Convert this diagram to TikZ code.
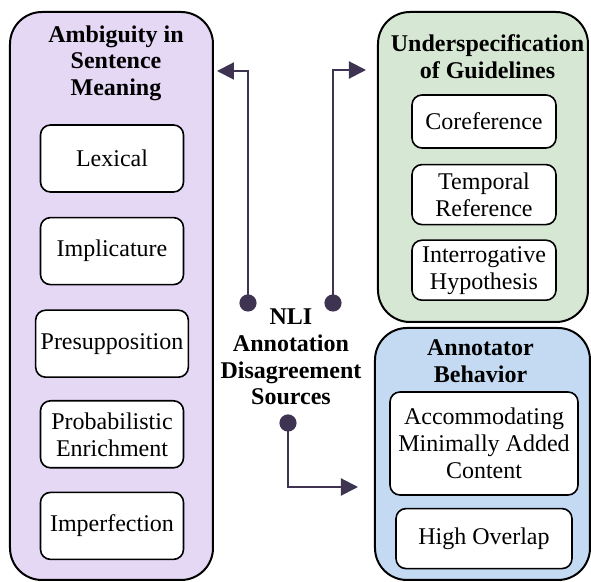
\documentclass[tikz,border=0pt]{standalone}
\usepackage{xcolor}
\usepackage{tikz}
\usepackage{fontspec}
\setmainfont{Liberation Serif}
\usetikzlibrary{arrows.meta, positioning, calc}

\definecolor{ambigfill}{HTML}{E5D8F5}
\definecolor{guidefill}{HTML}{D6E8D4}
\definecolor{annotfill}{HTML}{C4D9F2}
\definecolor{linkcol}{HTML}{3E3451}

\begin{document}
\begin{tikzpicture}[
    x=0.5pt, y=-0.5pt,
    font=\fontsize{12}{13.5}\selectfont,
    group/.style={rectangle, draw, line width=1pt, rounded corners=16pt},
    head/.style={align=center, font=\fontsize{12}{13.3}\selectfont\bfseries},
    item/.style={rectangle, draw, line width=0.8pt, rounded corners=5pt, fill=white, align=center, inner xsep=2.5pt, inner ysep=2.5pt},
    link/.style={-{Triangle[length=8.5pt, width=8.5pt]}, line width=1pt, draw=linkcol}
]
    \useasboundingbox (0,0) rectangle (591,582);

    % Groups
    \node[group, fill=ambigfill, minimum width=101.5pt, minimum height=284pt] (ambig) at (111.5,296) {};
    \node[group, fill=guidefill, minimum width=105pt, minimum height=155pt] (guide) at (483,167) {};
    \node[group, fill=annotfill, minimum width=107.5pt, minimum height=126pt] (annot) at (482.5,454) {};

    % Ambiguity in sentence meaning
    \node[head] (ambigT) at (116,63) {Ambiguity in\\Sentence\\Meaning};
    \node[item, minimum width=71.5pt, minimum height=33.5pt] (lex) at (112,158.5) {Lexical};
    \node[item, minimum width=71.5pt, minimum height=33.5pt, below=12pt of lex] (impl) {Implicature};
    \node[item, minimum width=71.5pt, minimum height=33.5pt, below=12pt of impl] (presup) {Presupposition};
    \node[item, minimum width=71.5pt, minimum height=33.5pt, below=11pt of presup] (prob) {Probabilistic\\Enrichment};
    \node[item, minimum width=71.5pt, minimum height=33.5pt, below=11.5pt of prob] (imperf) {Imperfection};

    % Underspecification of guidelines
    \node[head] (guideT) at (487.5,57) {Underspecification\\of Guidelines};
    \node[item, minimum width=72pt, minimum height=26.5pt] (coref) at (484,121.5) {Coreference};
    \node[item, minimum width=72pt, minimum height=30pt, below=7.5pt of coref] (temp) {Temporal\\Reference};
    \node[item, minimum width=72pt, minimum height=30pt, below=7pt of temp] (interr) {Interrogative\\Hypothesis};

    % Annotator behavior
    \node[head] (annotT) at (480.5,361) {Annotator\\Behavior};
    \node[item, minimum width=94pt, minimum height=51.5pt] (accom) at (484,443.5) {Accommodating\\Minimally Added\\Content};
    \node[item, minimum width=88pt, minimum height=30pt, below=6pt of accom] (overlap) {High Overlap};

    % Centre
    \node[head] (nli) at (291,357) {NLI\\Annotation\\Disagreement\\Sources};

    % Connectors
    \coordinate (dotL) at (248,303);
    \coordinate (dotR) at (333,303);
    \coordinate (dotB) at (288,423);
    \coordinate (kneeL) at (248,71);
    \coordinate (kneeR) at (333,70);
    \coordinate (kneeB) at (288,487);

    \draw[link, shorten >=1.5pt] (dotL) -- (kneeL) -- (kneeL -| ambig.east);
    \draw[link, shorten >=5.5pt] (dotR) -- (kneeR) -- (kneeR -| guide.west);
    \draw[link, shorten >=8pt] (dotB) -- (kneeB) -- (kneeB -| annot.west);
    \fill[linkcol] (dotL) circle (4.3pt) (dotR) circle (4.3pt) (dotB) circle (4.3pt);
\end{tikzpicture}
\end{document}
